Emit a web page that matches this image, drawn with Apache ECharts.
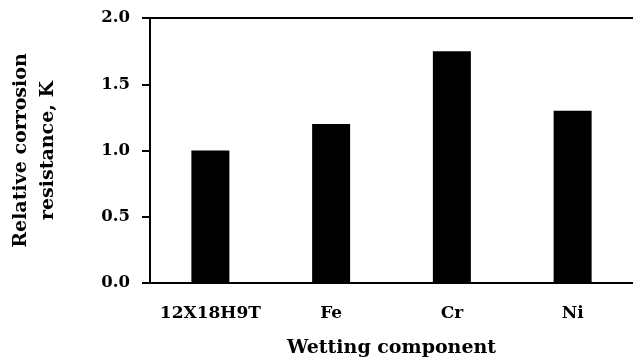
<!DOCTYPE html>
<html>
<head>
<meta charset="utf-8">
<script src="https://cdn.jsdelivr.net/npm/echarts@6/dist/echarts.min.js"></script>
<style>html,body{margin:0;padding:0;background:#fff;}#c{width:633px;height:363px;}</style>
</head>
<body>
<div id="c"></div>
<script>
const categories = ['12X18H9T', 'Fe', 'Cr', 'Ni'];
const values = [1.0, 1.2, 1.75, 1.3];
const xTitle = 'Wetting component';
const yTitle = 'Relative corrosion\nresistance, K';

const FONT = '"DejaVu Serif", serif';
const chart = echarts.init(document.getElementById('c'), null, {renderer: 'canvas'});
chart.setOption({
  animation: false,
  backgroundColor: '#fff',
  grid: {left: 147, top: 18, width: 488, height: 272, containLabel: false},
  xAxis: [{
    type: 'category',
    data: categories,
    position: 'bottom',
    axisLine: {show: true, lineStyle: {color: '#000', width: 2}},
    axisTick: {show: false},
    axisLabel: {color: '#000', fontFamily: FONT, fontWeight: 'bold', fontSize: 17, margin: 22, interval: 0, hideOverlap: false},
    name: xTitle,
    nameLocation: 'middle',
    nameGap: 56,
    nameTextStyle: {color: '#000', fontFamily: FONT, fontWeight: 'bold', fontSize: 19}
  }, {
    type: 'category',
    data: categories,
    position: 'top',
    axisLine: {show: true, lineStyle: {color: '#000', width: 2}},
    axisTick: {show: false},
    axisLabel: {show: false}
  }],
  yAxis: {
    type: 'value',
    min: 0, max: 2, interval: 0.5,
    axisLine: {show: true, lineStyle: {color: '#000', width: 2}},
    axisTick: {show: true, length: 8, lineStyle: {color: '#000', width: 2}},
    splitLine: {show: false},
    axisLabel: {color: '#000', fontFamily: FONT, fontWeight: 'bold', fontSize: 16.5, margin: 20,
      formatter: v => v.toFixed(1)},
    name: yTitle,
    nameLocation: 'middle',
    nameGap: 88,
    nameRotate: 90,
    nameTextStyle: {color: '#000', fontFamily: FONT, fontWeight: 'bold', fontSize: 19, lineHeight: 27, align: 'center'}
  },
  series: [{
    type: 'bar',
    data: values,
    barWidth: 38,
    itemStyle: {color: '#000'}
  }]
});
</script>
</body>
</html>
